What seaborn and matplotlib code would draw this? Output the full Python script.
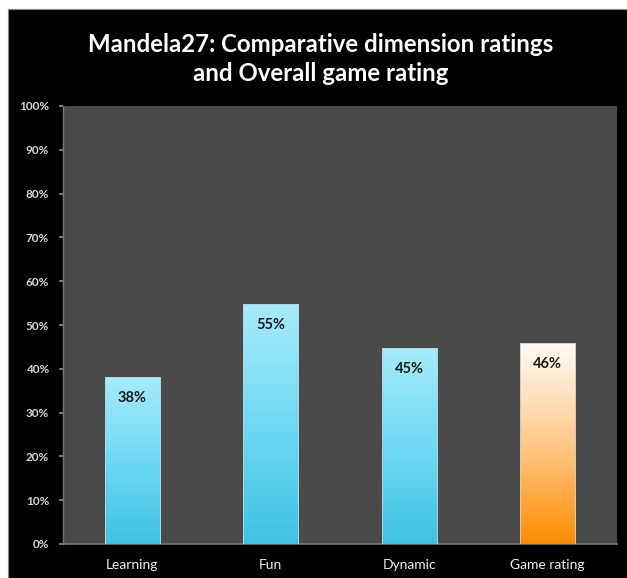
import numpy as np
import pandas as pd
import matplotlib
matplotlib.use("Agg")
import matplotlib.pyplot as plt
import seaborn as sns
from matplotlib.colors import LinearSegmentedColormap
from matplotlib.patches import Rectangle

categories = ["Learning", "Fun", "Dynamic", "Game rating"]
values = [0.382, 0.547, 0.447, 0.459]
labels = ["38%", "55%", "45%", "46%"]
yticks = [0.0, 0.1, 0.2, 0.3, 0.4, 0.5, 0.6, 0.7, 0.8, 0.9, 1.0]
ytick_labels = ["0%", "10%", "20%", "30%", "40%", "50%", "60%", "70%", "80%", "90%", "100%"]
title = "Mandela27: Comparative dimension ratings\nand Overall game rating"

sns.set_theme(style="white")
plt.rcParams['font.family'] = ['Lato', 'DejaVu Sans']

W, H = 627, 578
fig = plt.figure(figsize=(W / 100, H / 100), dpi=100)
fig.patch.set_facecolor("white")
# black slide background
fig.patches.append(Rectangle((8 / W, 0), 1 - 8 / W, 1 - 9 / H, transform=fig.transFigure,
                             facecolor="black", edgecolor="#888888", linewidth=0.8, zorder=-5))

left, right, top, bottom = 63, 617, 106, 544
ax = fig.add_axes([left / W, 1 - bottom / H, (right - left) / W, (bottom - top) / H])
ax.set_zorder(2)
ax.set_facecolor("#4a4a4a")

df = pd.DataFrame({"cat": categories, "val": values})
sns.barplot(data=df, x="cat", y="val", ax=ax, width=0.4, color="#5fd0ee",
            edgecolor="none", zorder=2)

blue = LinearSegmentedColormap.from_list("b", ["#3ec2e2", "#70d9f3", "#a6ebfb"])
orange = LinearSegmentedColormap.from_list("o", ["#ff8c00", "#ffc98a", "#fffcf8"])
grad = np.linspace(0, 1, 256).reshape(-1, 1)
bars = list(ax.patches)
for i, p in enumerate(bars):
    x0, y0 = p.get_x(), p.get_y()
    w, h = p.get_width(), p.get_height()
    cmap = orange if i == 3 else blue
    im = ax.imshow(grad, cmap=cmap, origin="lower", aspect="auto",
                   extent=[x0, x0 + w, y0, y0 + h], zorder=3)
    im.set_clip_path(p)
    p.set_facecolor("none")
    ax.add_patch(Rectangle((x0, y0), w, h, facecolor="none",
                           edgecolor="#a8d8e4" if i < 3 else "#d8c8b8",
                           linewidth=0.7, zorder=4))
    ax.text(x0 + w / 2, y0 + h - 0.048, labels[i], ha="center", va="center",
            fontsize=10.5, fontweight="bold", color="#1a1a1a", zorder=5)

ax.set_xlim(-0.5, 3.5)
ax.set_ylim(0, 1.0)
ax.set_yticks(yticks)
ax.set_yticklabels(ytick_labels, fontsize=8.5, fontweight="bold", color="#d8d8d8")
ax.set_xticks(range(len(categories)))
ax.set_xticklabels(categories, fontsize=10, color="#eeeeee")
ax.tick_params(axis="y", length=3, color="#888888", pad=7, left=True)
ax.tick_params(axis="x", length=0, pad=11)
ax.set_xlabel("")
ax.set_ylabel("")
for s in ["top", "right"]:
    ax.spines[s].set_visible(False)
ax.spines["left"].set_color("#777777")
ax.spines["bottom"].set_color("#777777")
ax.spines["left"].set_linewidth(1)
ax.spines["bottom"].set_linewidth(1.2)

fig.text(321 / W, 1 - 59 / H, title, ha="center", va="center", fontsize=17.3,
         fontweight="bold", color="white", linespacing=1.3)

fig.savefig("out.png", dpi=100, facecolor=fig.get_facecolor())
